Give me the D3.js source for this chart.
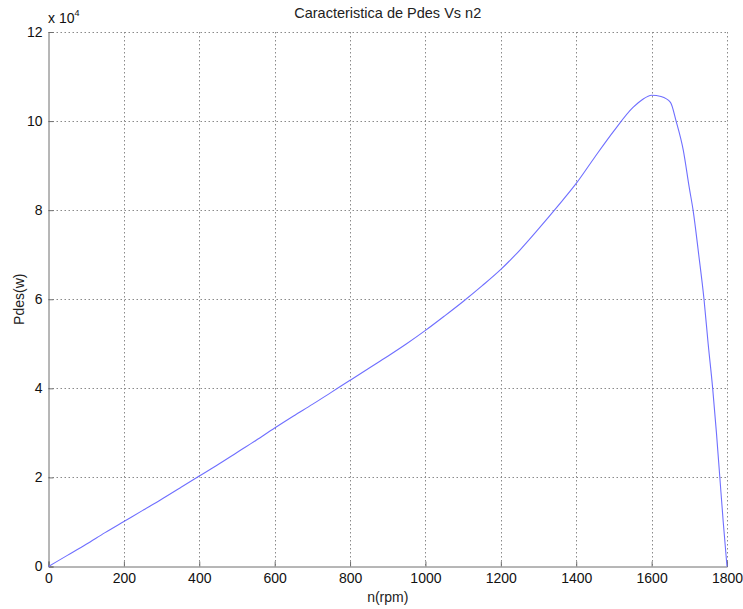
<!DOCTYPE html>
<html>
<head>
<meta charset="utf-8">
<script src="https://cdn.jsdelivr.net/npm/d3@7"></script>
<style>
  html, body { margin: 0; padding: 0; background: #fff; }
  svg { display: block; font-family: "Liberation Sans", Arial, sans-serif; }
</style>
</head>
<body>
<svg id="chart" width="743" height="609"></svg>
<script>
// Speed (rpm) and developed power (in units of 1e4 W)
const speed = [0, 50, 100, 150, 200, 250, 300, 350, 400, 450, 500, 550, 600, 650, 700, 750, 800,
  850, 900, 950, 1000, 1050, 1100, 1150, 1200, 1250, 1300, 1350, 1400, 1450, 1500, 1550,
  1575, 1600, 1625, 1650, 1665, 1684, 1700, 1710, 1725, 1739, 1750, 1762, 1772, 1781, 1790, 1800];
const power = [0, 0.25, 0.50, 0.76, 1.01, 1.26, 1.51, 1.77, 2.03, 2.29, 2.56, 2.83, 3.11, 3.38, 3.64, 3.91, 4.18,
  4.45, 4.72, 5.00, 5.30, 5.62, 5.95, 6.30, 6.67, 7.10, 7.58, 8.08, 8.60, 9.20, 9.78, 10.30,
  10.48, 10.58, 10.55, 10.42, 10.00, 9.35, 8.50, 8.00, 7.00, 6.00, 5.00, 4.00, 3.00, 2.00, 1.00, 0];

const xTicks = [0, 200, 400, 600, 800, 1000, 1200, 1400, 1600, 1800];
const yTicks = [0, 2, 4, 6, 8, 10, 12];

const svg = d3.select("#chart");
const plotLeft = 48.5, plotRight = 727, plotTop = 32, plotBottom = 566.5;

const x = d3.scaleLinear().domain([0, 1800]).range([plotLeft, plotRight]);
const y = d3.scaleLinear().domain([0, 12]).range([plotBottom, plotTop]);

// dotted grid
const grid = svg.append("g").attr("stroke", "#8a8a8a").attr("stroke-width", 1)
  .attr("stroke-dasharray", "1.5,2.5").attr("fill", "none");
xTicks.filter(d => d > 0).forEach(d => {
  grid.append("line").attr("x1", Math.round(x(d)) + 0.5).attr("x2", Math.round(x(d)) + 0.5)
    .attr("y1", plotTop).attr("y2", plotBottom);
});
yTicks.filter(d => d > 0).forEach(d => {
  grid.append("line").attr("x1", plotLeft).attr("x2", plotRight)
    .attr("y1", Math.round(y(d)) + 0.5).attr("y2", Math.round(y(d)) + 0.5);
});

// axes with inward ticks
const xAxis = d3.axisBottom(x).tickValues(xTicks).tickFormat(d3.format("d")).tickSize(-5).tickPadding(7);
const yAxis = d3.axisLeft(y).tickValues(yTicks).tickFormat(d3.format("d")).tickSize(-5).tickPadding(6);

const gx = svg.append("g").attr("transform", `translate(0,${plotBottom})`).call(xAxis);
const gy = svg.append("g").attr("transform", `translate(${plotLeft},0)`).call(yAxis);
[gx, gy].forEach(g => {
  g.select(".domain").attr("stroke", "#6e6e6e");
  g.selectAll(".tick line").attr("stroke", "#6e6e6e");
  g.selectAll(".tick text").attr("fill", "#111").attr("font-size", 14)
    .attr("font-family", "'Liberation Sans', Arial, sans-serif");
});

// curve
const line = d3.line().x((d, i) => x(speed[i])).y(d => y(d)).curve(d3.curveMonotoneX);
svg.append("path").datum(power).attr("d", line)
  .attr("fill", "none").attr("stroke", "#6f6fff").attr("stroke-width", 1.1);

// exponent label
const ex = svg.append("text").attr("x", 48).attr("y", 23).attr("font-size", 14).attr("fill", "#111");
ex.append("tspan").text("x 10");
ex.append("tspan").attr("dy", -7).attr("font-size", 9).text("4");

// title and axis labels
svg.append("text").attr("x", (plotLeft + plotRight) / 2).attr("y", 18).attr("text-anchor", "middle")
  .attr("font-size", 14.5).attr("fill", "#222").text("Caracteristica de Pdes Vs n2");
svg.append("text").attr("x", (plotLeft + plotRight) / 2).attr("y", 602).attr("text-anchor", "middle")
  .attr("font-size", 14).attr("fill", "#222").text("n(rpm)");
svg.append("text").attr("transform", `translate(24,${(plotTop + plotBottom) / 2}) rotate(-90)`)
  .attr("text-anchor", "middle").attr("font-size", 14).attr("fill", "#222").text("Pdes(w)");
</script>
</body>
</html>
